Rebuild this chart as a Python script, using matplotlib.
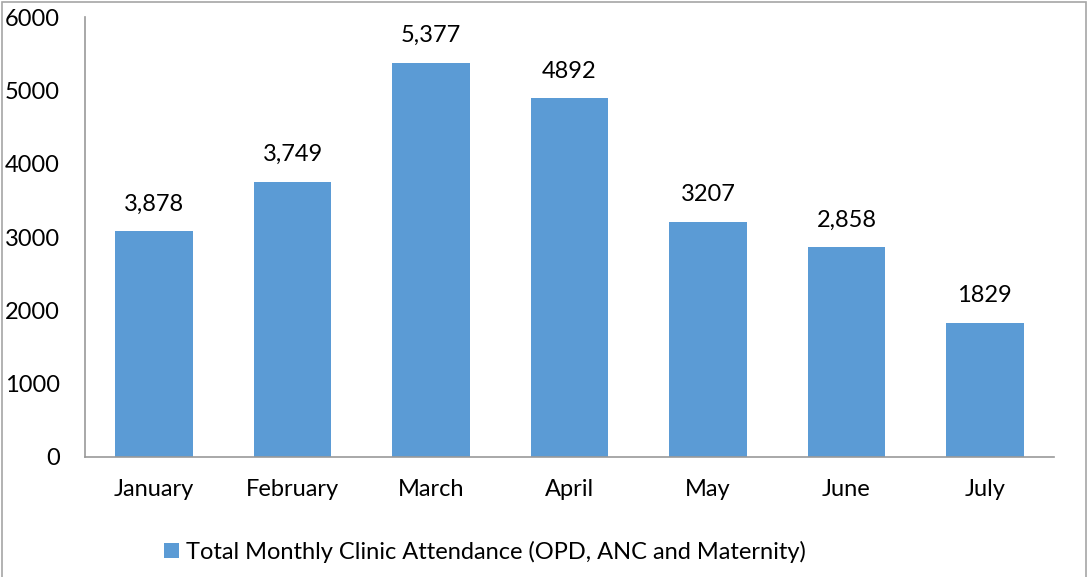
import matplotlib.pyplot as plt
from matplotlib.patches import Rectangle

# Datos
meses = ['January', 'February', 'March', 'April', 'May', 'June', 'July']
altura_barras = [3080, 3750, 5377, 4892, 3207, 2858, 1829]
etiquetas = ['3,878', '3,749', '5,377', '4892', '3207', '2,858', '1829']
serie = 'Total Monthly Clinic Attendance (OPD, ANC and Maternity)'

plt.rcParams['font.family'] = ['Lato', 'DejaVu Sans']

fig = plt.figure(figsize=(10.9, 5.77), dpi=100)
ax = fig.add_axes([0.078, 0.208, 0.889, 0.7625])

x = range(len(meses))
barras = ax.bar(x, altura_barras, width=0.56, color='#5B9BD5', label=serie)

for xi, h, txt in zip(x, altura_barras, etiquetas):
    ax.annotate(txt, (xi, h), xytext=(0, 12), textcoords='offset points',
                ha='center', va='bottom', fontsize=17, color='black')

ax.set_xlim(-0.5, 6.5)
ax.set_ylim(0, 6000)
ax.set_yticks(range(0, 6001, 1000))
ax.set_xticks(list(x))
ax.set_xticklabels(meses)
ax.tick_params(axis='both', length=0, labelsize=17, colors='black')
ax.tick_params(axis='x', pad=16)
ax.tick_params(axis='y', pad=18)

for lado in ['top', 'right']:
    ax.spines[lado].set_visible(False)
for lado in ['left', 'bottom']:
    ax.spines[lado].set_color('#999999')
    ax.spines[lado].set_linewidth(1.2)

fig.legend(handles=[barras], loc='center', bbox_to_anchor=(0.445, 0.043),
           frameon=False, fontsize=17, handlelength=0.6, handleheight=0.6,
           handletextpad=0.3)

# Borde exterior del gráfico
fig.patches.append(Rectangle((0.002, -0.01), 0.994, 1.007, transform=fig.transFigure,
                             fill=False, edgecolor='#A6A6A6', linewidth=1.2))

fig.savefig('out.png', dpi=100)
plt.close(fig)
